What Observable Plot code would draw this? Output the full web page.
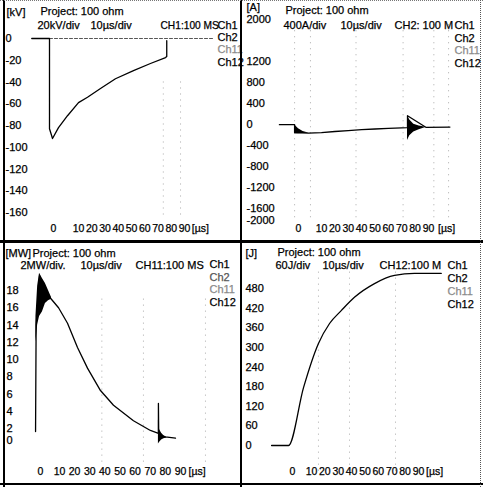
<!DOCTYPE html>
<html><head><meta charset="utf-8">
<script src="https://cdn.jsdelivr.net/npm/d3@7"></script>
<script src="https://cdn.jsdelivr.net/npm/@observablehq/plot@0.6"></script>
<style>
body{margin:0;background:#fff;}
#wrap{position:relative;width:483px;height:487px;overflow:hidden;background:#fff;}
.pn{position:absolute;}
.bd{position:absolute;}
</style></head><body><div id="wrap"></div>
<script>
// ---------- shared ----------
const xTicks = [0, 10, 20, 30, 40, 50, 60, 70, 80, 90];
const xUnit = "[µs]";
const channels = ["Ch1", "Ch2", "Ch11", "Ch12"];
const project = "Project: 100 ohm";
const timeDiv = "10µs/div";

// ---------- panel 1 : voltage [kV] ----------
const p1Time = [-8.7, -1.6, -1.6, -0.4, 2.0, 5.6, 10.0, 16.8, 26.6, 37.9, 51.5, 64.3, 75.7, 76.6, 76.6];
const p1Volt = [0, 0, -83, -92, -82, -71, -59, -54, -46, -37, -29.5, -23, -17.5, -16.5, -2];
const p1BaseTime = [-1.6, 112];
const p1YTicks = [0, -20, -40, -60, -80, -100, -120, -140, -160];
const p1GridTime = [74, 87];

// ---------- panel 2 : current [A] ----------
const p2Time = [-8.3, -1.7, -1.7, 4.3, 10, 20, 30, 40, 50, 60, 70, 74.3, 74.3, 88, 106];
const p2Amp = [0, 0, -150, -160, -150, -130, -112, -96, -82, -70, -60, -55, 170, -50, -45];
const p2Ring1Time = [-1.7, 0, 2, 4.3];
const p2Ring1Lo = [-175, -175, -168, -162];
const p2Ring1Hi = [0, -80, -130, -158];
const p2Ring2Time = [74.3, 76, 79, 83, 88];
const p2Ring2Lo = [-300, -210, -140, -95, -55];
const p2Ring2Hi = [170, 90, 10, -25, -50];
const p2YTicks = [2000, 1200, 800, 400, 0, -400, -800, -1200, -1600, -2000];
const p2GridTime = [-1.7, 5.2, 35.8, 71, 94, 105];

// ---------- panel 3 : power [MW] ----------
const p3Time = [-2.6, -2.3, -0.5, 2.6, 5.3, 9.5, 15.3, 21.9, 28.5, 37.1, 45.7, 58.9, 70.1, 75.4, 75.4, 75.6, 80, 86.7];
const p3Pow = [1.5, 14, 19.7, 18.0, 17.1, 16.0, 14.2, 11.4, 9.0, 6.4, 4.7, 2.9, 1.67, 1.17, 4.9, 1.0, 0.6, 0.4];
const p3Ring1Time = [-2.4, -1.5, -0.5, 1.0, 2.6, 4.2, 5.8];
const p3Ring1Lo = [12, 14, 15, 15.5, 16.5, 16.8, 17.0];
const p3Ring1Hi = [15, 18.5, 20, 19.4, 18.8, 18, 17.2];
const p3Ring2Time = [75.4, 76.2, 77.5, 79, 81];
const p3Ring2Lo = [-0.6, -0.3, 0.1, 0.3, 0.4];
const p3Ring2Hi = [3.0, 1.8, 1.2, 0.8, 0.5];
const p3YTicks = [18, 16, 14, 12, 10, 8, 6, 4, 2, 0];
const p3GridTime = [38, 65.5, 106.5];

// ---------- panel 4 : energy [J] ----------
const p4Time = [-11, -2.1, 5.8, 15.2, 23.5, 32.4, 42.1, 57.1, 72.1, 87, 107];
const p4Energy = [0, 0, 177, 312, 373, 413, 453, 495, 520, 526, 526];
const p4YTicks = [480, 420, 360, 300, 240, 180, 120, 60, 0];
const p4GridTime = [15.2, 38.4, 72.8];

const FONT = "'Liberation Sans', Arial, Helvetica, sans-serif";
const chColor = ["#000", "#000", "#8a8a8a", "#000"];

function txt(s, x, y, fill = "#000", fontSize = 11) {
  return Plot.text([s], {text: d => d, frameAnchor: "top-left", dx: x, dy: y, textAnchor: "start", lineAnchor: "middle", fontSize, fill, stroke: fill, strokeWidth: 0.25});
}
// piecewise-linear screen scale (the scope's printed time/value labels are not evenly spaced)
function pw(d, r) { return d3.scaleLinear().domain(d).range(r); }

function makePanel(o) {
  const marks = [];
  if (o.grid) {
    marks.push(Plot.ruleX(o.grid, {x: d => d, y1: o.gridY[0], y2: o.gridY[1], stroke: "#aaa", strokeWidth: 1, strokeDasharray: "1,5"}));
  }
  if (o.baseTime) {
    marks.push(Plot.line(o.baseTime.map(t => ({t, v: 0})), {x: "t", y: "v", stroke: "#555", strokeWidth: 1, strokeDasharray: "3,2"}));
  }
  for (const r of (o.rings || [])) {
    const band = r.time.map((t, i) => ({t, lo: r.lo[i], hi: r.hi[i]}));
    marks.push(Plot.areaY(band, {x: "t", y1: "lo", y2: "hi", fill: "#000"}));
  }
  marks.push(Plot.line(o.time.map((t, i) => ({t, v: o.value[i]})), {x: "t", y: "v", stroke: "#000", strokeWidth: 1.3, curve: o.curve || "linear"}));
  // tick labels (y on the left edge, x along the bottom)
  marks.push(Plot.text(o.yTicks, {y: d => d, text: d => String(d), frameAnchor: "left", dx: o.yDx, textAnchor: "start", fontSize: 11, fill: "#000", stroke: "#000", strokeWidth: 0.25}));
  const xt = [...xTicks, o.unitT];
  marks.push(Plot.text(xt, {x: d => d, text: d => d === o.unitT ? xUnit : String(d), frameAnchor: "bottom", dy: o.xDy, lineAnchor: "middle", fontSize: 10.5, fill: "#000", stroke: "#000", strokeWidth: 0.25}));
  const h = o.head;
  marks.push(txt(o.unit, h.unit[0], h.unit[1]));
  marks.push(txt(project, h.proj[0], h.proj[1]));
  marks.push(txt(o.vdiv, h.vdiv[0], h.vdiv[1]));
  marks.push(txt(timeDiv, h.tdiv[0], h.tdiv[1]));
  marks.push(txt(o.ch, h.ch[0], h.ch[1], "#000", h.chSize || 11));
  channels.forEach((c, i) => marks.push(txt(c, h.leg[0], h.leg[1] + i * h.leg[2], o.legColor ? o.legColor[i] : chColor[i])));
  const xr = [o.xRange[0], o.xRange[o.xRange.length - 1]];
  const yr = d3.extent(o.yRange);
  const svg = Plot.plot({
    width: o.w, height: o.h, margin: 0,
    x: {transform: pw([0, 10, 90], o.xRange), domain: xr, range: xr, axis: null},
    y: {transform: pw(o.yDomain, o.yRange), domain: yr, range: yr, axis: null},
    style: {background: "transparent", fontFamily: FONT, fontSize: "11px", color: "#000", overflow: "visible"},
    marks
  });
  svg.classList.add("pn");
  svg.style.left = o.left + "px";
  svg.style.top = o.top + "px";
  return svg;
}

const wrap = document.getElementById("wrap");

wrap.appendChild(makePanel({
  left: 0, top: 0, w: 241, h: 241,
  xRange: [53, 78, 184], yDomain: [-160, 0], yRange: [212, 38],
  time: p1Time, value: p1Volt, baseTime: p1BaseTime, yTicks: p1YTicks,
  grid: p1GridTime, gridY: [-40, -165],
  yDx: 5, xDy: -13, unitT: 102,
  unit: "[kV]", vdiv: "20kV/div", ch: "CH1:100 MS",
  head: {unit: [6, 12], proj: [40, 11], vdiv: [37, 25], tdiv: [90, 25], ch: [160, 25], chSize: 10.2, leg: [217, 25, 12.2]}
}));

wrap.appendChild(makePanel({
  left: 241, top: 0, w: 242, h: 241,
  xRange: [57, 80, 187], yDomain: [-2000, -1600, 2000], yRange: [219.5, 208.3, 19],
  time: p2Time, value: p2Amp, yTicks: p2YTicks,
  rings: [{time: p2Ring1Time, lo: p2Ring1Lo, hi: p2Ring1Hi}, {time: p2Ring2Time, lo: p2Ring2Lo, hi: p2Ring2Hi}],
  grid: p2GridTime, gridY: [1900, -2000],
  yDx: 5, xDy: -13, unitT: 103.5,
  unit: "[A]", vdiv: "400A/div", ch: "CH2: 100 M",
  head: {unit: [5, 7], proj: [44, 10], vdiv: [42, 25], tdiv: [99, 25], ch: [153, 25], leg: [213, 25, 12.6]}
}));

wrap.appendChild(makePanel({
  left: 0, top: 241, w: 241, h: 246,
  xRange: [40, 59, 180], yDomain: [0, 2, 18], yRange: [199, 187, 49],
  time: p3Time, value: p3Pow, yTicks: p3YTicks,
  rings: [{time: p3Ring1Time, lo: p3Ring1Lo, hi: p3Ring1Hi}, {time: p3Ring2Time, lo: p3Ring2Lo, hi: p3Ring2Hi}],
  grid: p3GridTime, gridY: [17, -4],
  yDx: 6, xDy: -16, unitT: 101,
  unit: "[MW]", vdiv: "2MW/div.", ch: "CH11:100 MS",
  legColor: ["#000", "#555", "#8a8a8a", "#000"],
  head: {unit: [5, 12], proj: [32, 12], vdiv: [20, 24], tdiv: [80, 24], ch: [135, 24], leg: [209, 23, 12.7]}
}));

wrap.appendChild(makePanel({
  left: 241, top: 241, w: 242, h: 246,
  xRange: [51, 70, 177], yDomain: [0, 480], yRange: [204, 47],
  time: p4Time, value: p4Energy, yTicks: p4YTicks, curve: "monotone-x",
  grid: p4GridTime, gridY: [530, -80],
  yDx: 4, xDy: -16, unitT: 102,
  unit: "[J]", vdiv: "60J/div", ch: "CH12:100 M",
  head: {unit: [4, 12], proj: [36, 11], vdiv: [34, 24], tdiv: [81, 24], ch: [138, 24], leg: [206, 24, 13]}
}));

// frame lines of the scanned screen
function bd(css) { const d = document.createElement("div"); d.className = "bd"; Object.assign(d.style, css); wrap.appendChild(d); }
bd({left: "3px", top: "0px", width: "2px", height: "487px", background: "#000"});
bd({left: "240px", top: "0px", width: "2px", height: "487px", background: "#000"});
bd({left: "0px", top: "240px", width: "483px", height: "3px", background: "#000"});
bd({left: "0px", top: "483px", width: "483px", height: "2px", background: "#000"});
bd({left: "0px", top: "0px", width: "483px", height: "0px", borderTop: "1px dotted #777"});
bd({left: "480px", top: "0px", width: "0px", height: "487px", borderLeft: "1px dotted #555"});
</script></body></html>
